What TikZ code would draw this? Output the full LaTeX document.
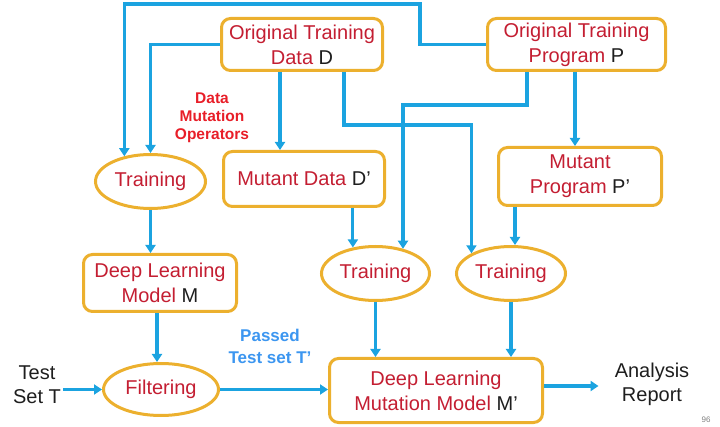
\documentclass[tikz,border=0pt]{standalone}
\usepackage{fontspec}
\setmainfont{Liberation Sans}
\usetikzlibrary{shapes.geometric,arrows.meta}
\definecolor{boxc}{RGB}{236,176,46}
\definecolor{linec}{RGB}{27,163,224}
\definecolor{txtred}{RGB}{196,30,50}
\definecolor{opred}{RGB}{232,30,40}
\definecolor{passblue}{RGB}{60,150,240}
\definecolor{dark}{RGB}{30,30,30}
\begin{document}
\begin{tikzpicture}[x=1pt,y=-1pt,
 box/.style={draw=boxc, line width=3pt, rounded corners=9pt, fill=white, align=center, text=txtred, font=\fontsize{20}{25}\selectfont, inner sep=0pt},
 ell/.style={ellipse, draw=boxc, line width=3pt, fill=white, align=center, text=txtred, font=\fontsize{20}{25}\selectfont, inner sep=0pt},
 arr/.style={draw=linec, line width=3.2pt, -{Triangle[length=8pt,width=10pt]}},
 lbl/.style={align=center, text=dark, font=\fontsize{20}{24}\selectfont, inner sep=2pt},
 ]
\useasboundingbox (0,0) rectangle (720,427);

% boxes
\node[box, minimum width=161pt, minimum height=52pt] (D) at (302,44.5) {Original Training\\Data {\color{dark}D}};
\node[box, minimum width=178pt, minimum height=52pt] (P) at (576.5,44.5) {Original Training\\Program {\color{dark}P}};
\node[box, minimum width=161pt, minimum height=55pt] (MD) at (304,179) {Mutant Data {\color{dark}D'}};
\node[box, minimum width=163pt, minimum height=58pt] (MP) at (580,176.5) {Mutant\\Program {\color{dark}P'}};
\node[box, minimum width=153pt, minimum height=57pt] (M) at (160,283) {Deep Learning\\Model {\color{dark}M}};
\node[box, minimum width=213pt, minimum height=64pt] (MM) at (436,390.5) {Deep Learning\\Mutation Model {\color{dark}M'}};

% ellipses
\node[ell, minimum width=110pt, minimum height=54pt] (T1) at (150.5,181.5) {Training};
\node[ell, minimum width=108pt, minimum height=54pt] (T2) at (375.5,273.5) {Training};
\node[ell, minimum width=109pt, minimum height=54pt] (T3) at (511,273.5) {Training};
\node[ell, minimum width=115pt, minimum height=52pt] (F) at (161,389.5) {Filtering};

% labels
\node[align=center, text=opred, font=\bfseries\fontsize{15.5}{18}\selectfont] (DMO) at (212,118) {Data\\Mutation\\Operators};
\node[align=center, text=passblue, font=\bfseries\fontsize{17}{22}\selectfont] (PT) at (270,346) {Passed\\Test set T'};
\node[lbl] (TT) at (37,385) {Test\\Set T};
\node[lbl] (AN) at (652,384) {Analysis\\Report};
\node[text=gray, font=\fontsize{8}{9}\selectfont] (PG) at (706,420) {96};

% connectors
\draw[arr] (P.west) -| (420,4) -| (T1.136);
\draw[arr] (D.west) -| (T1.north);
\draw[arr] (D.south -| 280,0) -- (MD.north -| 280,0);
\draw[arr] (D.south -| 344,0) -- (344,125) -| (T3.153);
\draw[arr] (P.south -| 527,0) -- (527,105) -| (T2.42);
\draw[arr] (P.south -| 575,0) -- (MP.north -| 575,0);
\draw[arr] (MD.south -| T2.131) -- (T2.131);
\draw[arr] (MP.south -| 515,0) -- (T3.north -| 515,0);
\draw[arr] (T1.south) -- (M.north -| T1.south);
\draw[arr] (M.south -| 157,0) -- (F.north -| 157,0);
\draw[arr] (TT.east |- F.west) -- (F.west);
\draw[arr] (F.east) -- (F.east -| MM.west);
\draw[arr] (T2.south) -- (T2.south |- MM.north);
\draw[arr] (T3.south) -- (T3.south |- MM.north);
\draw[arr, shorten >=14pt] (MM.east |- 0,386) -- (AN.west |- 0,386);
\end{tikzpicture}
\end{document}
